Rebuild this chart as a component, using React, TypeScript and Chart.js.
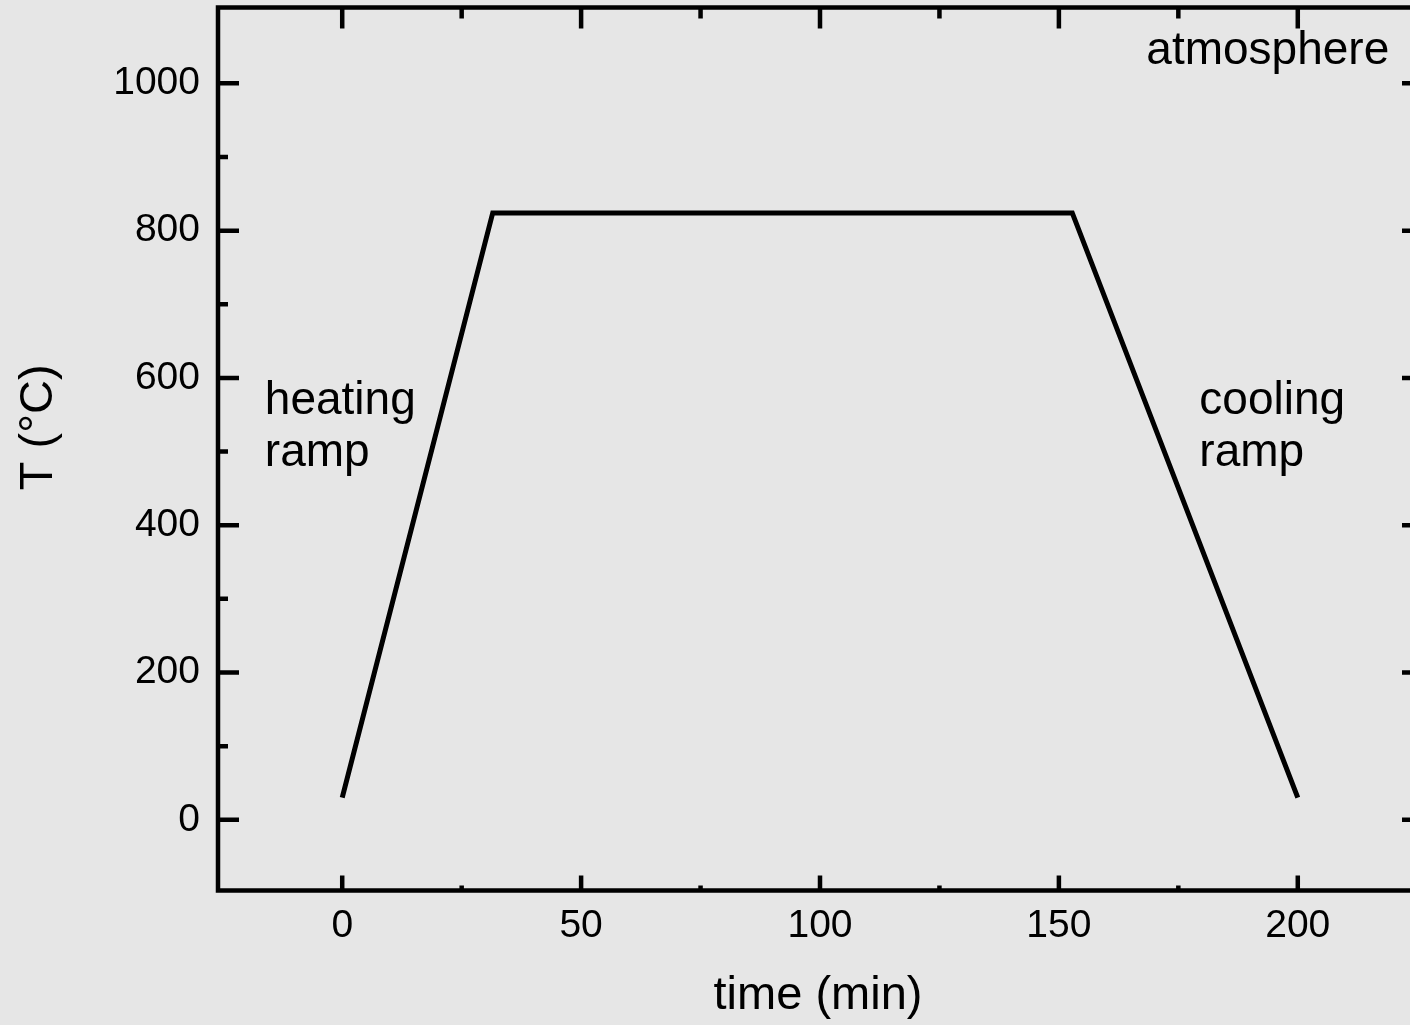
import React, { useEffect, useRef } from "react";
import { Chart, registerables } from "chart.js";

Chart.register(...registerables);

// ---- data ----
const timeMin = [0, 31.5, 152.8, 200];
const tempC = [30, 824, 824, 30];

const xMajorTicks = [0, 50, 100, 150, 200];
const xMinorTicks = [25, 75, 125, 175];
const yMajorTicks = [0, 200, 400, 600, 800, 1000];
const yMinorTicks = [100, 300, 500, 700, 900];

const xMin = -26;
const xMax = 226;
const yMin = -96;
const yMax = 1103;

const xTitle = "time (min)";
const yTitle = "T (°C)";

const heatingLabel = ["heating", "ramp"];
const coolingLabel = ["cooling", "ramp"];
const atmosphereLabel = ["atmosphere"];

const BG = "#e6e6e6";
const FONT = "'Liberation Sans', Arial, sans-serif";

const framePlugin = {
  id: "frame",
  beforeDraw(chart: any) {
    const { ctx, width, height } = chart;
    ctx.save();
    ctx.fillStyle = BG;
    ctx.fillRect(0, 0, width, height);
    ctx.restore();
  },
  afterDraw(chart: any) {
    const { ctx, chartArea: a, scales } = chart;
    const x = scales.x;
    const y = scales.y;
    ctx.save();
    ctx.strokeStyle = "#000";
    ctx.lineWidth = 4.5;
    ctx.lineCap = "butt";
    ctx.beginPath();
    xMajorTicks.forEach((v) => {
      const px = x.getPixelForValue(v);
      ctx.moveTo(px, a.bottom);
      ctx.lineTo(px, a.bottom - 15);
      ctx.moveTo(px, a.top);
      ctx.lineTo(px, a.top + 21);
    });
    xMinorTicks.forEach((v) => {
      const px = x.getPixelForValue(v);
      ctx.moveTo(px, a.bottom);
      ctx.lineTo(px, a.bottom - 5);
      ctx.moveTo(px, a.top);
      ctx.lineTo(px, a.top + 11);
    });
    yMajorTicks.forEach((v) => {
      const py = y.getPixelForValue(v);
      ctx.moveTo(a.left, py);
      ctx.lineTo(a.left + 21, py);
      ctx.moveTo(a.right, py);
      ctx.lineTo(a.right - 20, py);
    });
    yMinorTicks.forEach((v) => {
      const py = y.getPixelForValue(v);
      ctx.moveTo(a.left, py);
      ctx.lineTo(a.left + 10, py);
      ctx.moveTo(a.right, py);
      ctx.lineTo(a.right - 10, py);
    });
    ctx.stroke();
    ctx.lineJoin = "miter";
    ctx.strokeRect(a.left, a.top, a.right - a.left, a.bottom - a.top);

    // axis titles
    ctx.fillStyle = "#000";
    ctx.font = `47px ${FONT}`;
    ctx.textAlign = "center";
    ctx.textBaseline = "alphabetic";
    ctx.fillText(xTitle, (a.left + a.right) / 2 - 2, 1009);
    ctx.save();
    ctx.translate(52, y.getPixelForValue(533));
    ctx.rotate(-Math.PI / 2);
    ctx.fillText(yTitle, 0, 0);
    ctx.restore();

    // annotations
    ctx.font = `46px ${FONT}`;
    ctx.textAlign = "left";
    const drawLabel = (lines: string[], vx: number, vy: number) => {
      const px = x.getPixelForValue(vx);
      const py = y.getPixelForValue(vy);
      lines.forEach((t, i) => ctx.fillText(t, px, py + i * 52));
    };
    drawLabel(heatingLabel, -16.2, 551);
    drawLabel(coolingLabel, 179.4, 551);
    drawLabel(atmosphereLabel, 168.3, 1026.5);
    ctx.restore();
  },
};

export default function App() {
  const ref = useRef<HTMLCanvasElement | null>(null);

  useEffect(() => {
    if (!ref.current) return;
    const chart = new Chart(ref.current, {
      type: "line",
      data: {
        datasets: [
          {
            data: timeMin.map((t, i) => ({ x: t, y: tempC[i] })),
            borderColor: "#000",
            borderWidth: 5,
            pointRadius: 0,
            tension: 0,
            fill: false,
            borderJoinStyle: "miter",
          } as any,
        ],
      },
      options: {
        animation: false,
        responsive: false,
        maintainAspectRatio: false,
        layout: { padding: { left: 0, top: 7.5, right: 18, bottom: 0 } },
        plugins: {
          legend: { display: false },
          tooltip: { enabled: false },
        },
        scales: {
          x: {
            type: "linear",
            min: xMin,
            max: xMax,
            grid: { display: false, drawTicks: false },
            border: { display: false },
            afterBuildTicks: (scale: any) => {
              scale.ticks = xMajorTicks.map((v) => ({ value: v }));
            },
            afterFit: (scale: any) => {
              scale.height = 134.5;
              scale.paddingLeft = 0;
              scale.paddingRight = 0;
            },
            ticks: {
              padding: 12,
              color: "#000",
              font: { family: FONT, size: 39 },
              maxRotation: 0,
              autoSkip: false,
              callback: (v: any) => String(v),
            },
          },
          y: {
            type: "linear",
            min: yMin,
            max: yMax,
            grid: { display: false, drawTicks: false },
            border: { display: false },
            afterBuildTicks: (scale: any) => {
              scale.ticks = yMajorTicks.map((v) => ({ value: v }));
            },
            afterFit: (scale: any) => {
              scale.width = 218;
              scale.paddingTop = 0;
              scale.paddingBottom = 0;
            },
            ticks: {
              padding: 18,
              color: "#000",
              font: { family: FONT, size: 39 },
              autoSkip: false,
              callback: (v: any) => String(v),
            },
          },
        },
      } as any,
      plugins: [framePlugin],
    });
    return () => chart.destroy();
  }, []);

  return (
    <div
      style={{
        position: "fixed",
        left: 0,
        top: 0,
        width: 1410,
        height: 1025,
        overflow: "hidden",
        background: BG,
      }}
    >
      <canvas
        ref={ref}
        width={1440}
        height={1025}
        style={{ display: "block", width: 1440, height: 1025 }}
      />
    </div>
  );
}
